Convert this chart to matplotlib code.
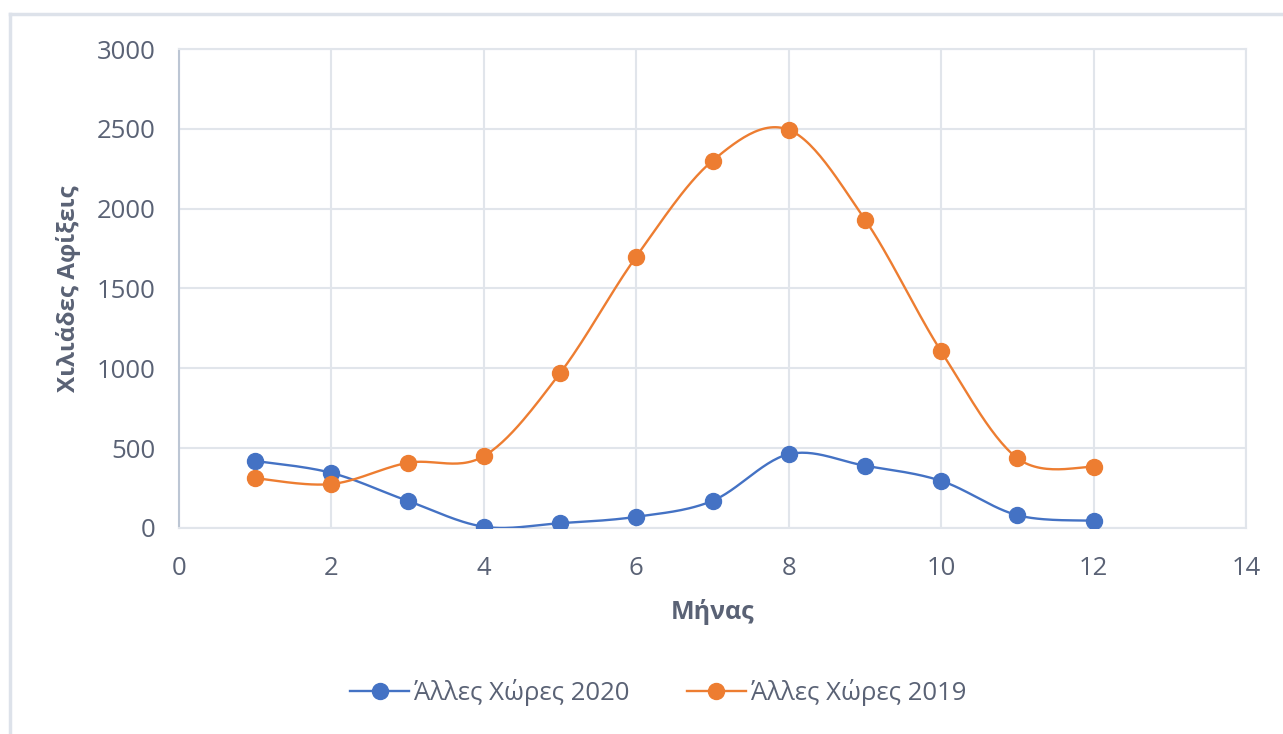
import matplotlib.pyplot as plt
import numpy as np
from matplotlib.lines import Line2D

plt.rcParams['font.family'] = ['Open Sans', 'DejaVu Sans']

months = [1, 2, 3, 4, 5, 6, 7, 8, 9, 10, 11, 12]
arrivals_2020 = [420, 345, 170, 8, 30, 70, 170, 462, 390, 295, 80, 45]
arrivals_2019 = [312, 275, 408, 450, 970, 1700, 2300, 2494, 1932, 1106, 437, 382]

label_2020 = 'Άλλες Χώρες 2020'
label_2019 = 'Άλλες Χώρες 2019'
xlabel = 'Μήνας'
ylabel = 'Χιλιάδες Αφίξεις'

text_col = '#5A6275'
grid_col = '#E1E5EB'


def smooth(x, y, n=30):
    # excel-like smoothed line: catmull-rom segments drawn as cubic beziers
    x = np.asarray(x, float)
    y = np.asarray(y, float)
    px = np.concatenate([[x[0]], x, [x[-1]]])
    py = np.concatenate([[y[0]], y, [y[-1]]])
    t = np.linspace(0, 1, n)
    xs, ys = [], []
    for i in range(1, len(px) - 2):
        p0 = np.array([px[i], py[i]])
        p3 = np.array([px[i + 1], py[i + 1]])
        c1 = p0 + (np.array([px[i + 1], py[i + 1]]) - np.array([px[i - 1], py[i - 1]])) / 6
        c2 = p3 - (np.array([px[i + 2], py[i + 2]]) - np.array([px[i], py[i]])) / 6
        b = ((1 - t) ** 3)[:, None] * p0 + (3 * (1 - t) ** 2 * t)[:, None] * c1 \
            + (3 * (1 - t) * t ** 2)[:, None] * c2 + (t ** 3)[:, None] * p3
        xs.extend(b[:, 0])
        ys.extend(b[:, 1])
    return np.array(xs), np.array(ys)


fig = plt.figure(figsize=(12.83, 7.34), dpi=100)
ax = fig.add_axes([0.1395, 0.2807, 0.8317, 0.6525])

for yv, col, lab in [(arrivals_2020, '#4472C4', label_2020), (arrivals_2019, '#ED7D31', label_2019)]:
    sx, sy = smooth(months, yv)
    ax.plot(sx, sy, color=col, lw=1.7, zorder=3)
    ax.plot(months, yv, 'o', color=col, ms=11.5, zorder=4)
    ax.plot([], [], '-o', color=col, lw=1.7, ms=11.5, label=lab)

ax.set_xlim(0, 14)
ax.set_ylim(0, 3000)
ax.set_xticks(np.arange(0, 15, 2))
ax.set_yticks(np.arange(0, 3001, 500))
ax.grid(True, color=grid_col, lw=1.5)
ax.set_axisbelow(True)
for s in ['top', 'right', 'bottom']:
    ax.spines[s].set_color(grid_col)
    ax.spines[s].set_linewidth(1.5)
ax.spines['left'].set_color('#BCC6D4')
ax.spines['left'].set_linewidth(1.5)
ax.tick_params(length=0, labelsize=18.5, labelcolor=text_col)
ax.tick_params(axis='x', pad=20)
ax.tick_params(axis='y', pad=17)

ax.set_xlabel(xlabel, fontsize=18, fontweight='bold', color=text_col, labelpad=13)
ax.set_ylabel(ylabel, fontsize=17.5, fontweight='bold', color=text_col, labelpad=11)

fig.legend(loc='center', bbox_to_anchor=(0.513, 0.057), ncol=2, frameon=False,
           fontsize=18.5, labelcolor=text_col, handlelength=2.3, columnspacing=2.2,
           handletextpad=0.2)

# outer chart border (only left and top visible)
fig.add_artist(Line2D([0.0078, 0.0078], [0, 0.981], color='#DDE2EA', lw=2.5))
fig.add_artist(Line2D([0.0078, 1], [0.981, 0.981], color='#DDE2EA', lw=2.5))

fig.savefig('out.png', dpi=100)
